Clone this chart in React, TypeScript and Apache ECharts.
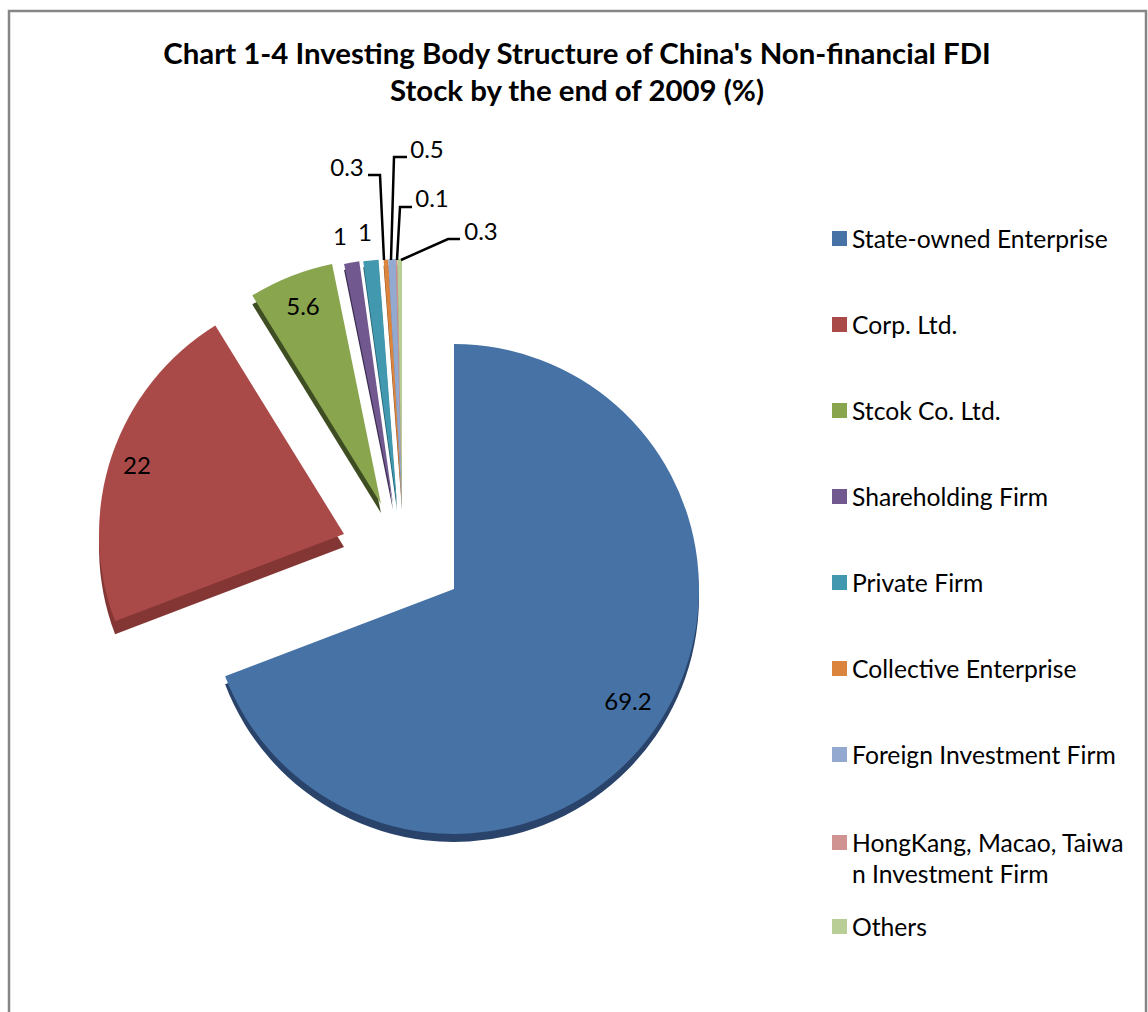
import React, { useEffect, useRef } from "react";
import * as echarts from "echarts";

const titleText = "Chart 1-4 Investing Body Structure of China's Non-financial FDI\nStock by the end of 2009 (%)";
const names = [
  "State-owned Enterprise",
  "Corp. Ltd.",
  "Stcok Co. Ltd.",
  "Shareholding Firm",
  "Private Firm",
  "Collective Enterprise",
  "Foreign Investment Firm",
  "HongKang, Macao, Taiwan Investment Firm",
  "Others",
];
const values = [69.2, 22, 5.6, 1, 1, 0.3, 0.5, 0.1, 0.3];
const colors = ["#4672A5", "#AA4A48", "#89A54E", "#71588F", "#4198AF", "#DB843D", "#93A9CF", "#D19392", "#B9CD96"];
const sideColors = ["#29436A", "#843634", "#3F4D22", "#3B2C50", "#22616F", "#8F5220", "#5C6E90", "#8A5E5D", "#76865A"];

// Each exploded group of slices has its own centre.
const groups = [
  { items: [0], center: [454, 589], depth: 8 },
  { items: [1], center: [344, 534], depth: 13 },
  { items: [2], center: [381, 504], depth: 9 },
  { items: [3], center: [393, 504], depth: 6 },
  { items: [4], center: [397, 504], depth: 6 },
  { items: [5, 6, 7, 8], center: [402, 504], depth: 6 },
];
const labelAt: Record<number, [number, number]> = {
  0: [628, 700],
  1: [137, 464],
  2: [303, 305],
  3: [340, 235],
  4: [365, 231],
  5: [347, 166],
  6: [427, 148],
  7: [432, 197],
  8: [481, 230],
};
const leaders = [
  [[368, 175], [380, 175], [384, 260]],
  [[407, 157], [394, 157], [391, 260]],
  [[412, 207], [400, 207], [397, 260]],
  [[460, 239], [448, 239], [401, 260]],
];

const FONT = "Lato";
const RADIUS = 245;
const total = values.reduce((a, b) => a + b, 0);

function angleBefore(i: number) {
  let s = 0;
  for (let k = 0; k < i; k++) s += values[k];
  return 90 - (s / total) * 360;
}

function buildSeries() {
  const main: any[] = [];
  const side: any[] = [];
  groups.forEach((g) => {
    const first = g.items[0];
    const last = g.items[g.items.length - 1];
    const startAngle = angleBefore(first);
    const endAngle = angleBefore(last + 1);
    main.push({
      type: "pie",
      z: 3,
      radius: [0, RADIUS],
      center: g.center,
      startAngle,
      endAngle,
      clockwise: true,
      silent: true,
      minShowLabelAngle: 0,
      avoidLabelOverlap: false,
      label: {
        show: true,
        position: "inside",
        formatter: (p: any) => String(p.value),
        color: "#000",
        fontFamily: FONT,
        fontSize: 24,
      },
      labelLine: { show: false },
      labelLayout: (p: any) => {
        const pos = labelAt[g.items[p.dataIndex]];
        return { x: pos[0], y: pos[1], align: "center", verticalAlign: "middle" };
      },
      data: g.items.map((i) => ({
        name: names[i],
        value: values[i],
        itemStyle: { color: colors[i] },
      })),
    });
    side.push({
      type: "pie",
      z: 2,
      radius: [0, RADIUS],
      center: [g.center[0], g.center[1] + g.depth],
      startAngle,
      endAngle,
      clockwise: true,
      silent: true,
      label: { show: false },
      labelLine: { show: false },
      data: g.items.map((i) => ({
        name: names[i],
        value: values[i],
        itemStyle: { color: sideColors[i] },
      })),
    });
  });
  return [...main, ...side];
}

export default function App() {
  const ref = useRef<HTMLDivElement>(null);
  useEffect(() => {
    const chart = echarts.init(ref.current!, undefined, { renderer: "svg" });
    const legendBase = {
      orient: "vertical",
      left: 827,
      icon: "rect",
      itemWidth: 15,
      itemHeight: 15,
      selectedMode: false,
      textStyle: { fontFamily: FONT, fontSize: 24.7, color: "#000" },
    };
    chart.setOption({
      animation: false,
      backgroundColor: "#fff",
      title: {
        text: titleText,
        left: 572,
        top: 29,
        textAlign: "center",
        textStyle: { fontFamily: FONT, fontSize: 29.4, fontWeight: "bold", color: "#000", lineHeight: 37 },
      },
      legend: [
        { ...legendBase, top: 221, itemGap: 61, data: names.slice(0, 7) },
        {
          ...legendBase,
          top: 825,
          data: [names[7]],
          formatter: () => "HongKang, Macao, Taiwa",
        },
        { ...legendBase, top: 909, data: [names[8]] },
      ],
      graphic: [
        {
          type: "rect",
          silent: true,
          shape: { x: 9, y: 11, width: 1137, height: 1100 },
          style: { fill: "none", stroke: "#868686", lineWidth: 2.5 },
        },
        {
          type: "text",
          silent: true,
          x: 852,
          y: 873,
          style: { text: "n Investment Firm", fontFamily: FONT, fontSize: 24.7, fill: "#000", textVerticalAlign: "middle" },
        },
        ...leaders.map((pts) => ({
          type: "polyline",
          silent: true,
          z: 10,
          shape: { points: pts },
          style: { stroke: "#000", lineWidth: 2.5, fill: "none" },
        })),
      ],
      series: buildSeries(),
    });
    return () => chart.dispose();
  }, []);
  return <div ref={ref} style={{ position: "absolute", left: 0, top: 0, width: 1148, height: 1012 }} />;
}
